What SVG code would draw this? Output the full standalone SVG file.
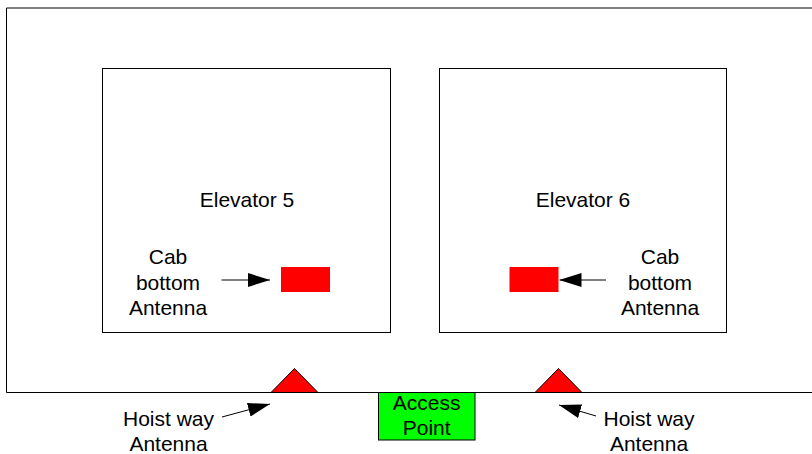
<svg xmlns="http://www.w3.org/2000/svg" width="812" height="454" viewBox="0 0 812 454">
<style>
.box{fill:none;stroke:#000;stroke-width:1}
.lbl{font-family:"Liberation Sans",Arial,sans-serif;font-size:21px;fill:#000;text-anchor:middle}
.cab{fill:#ff0000;stroke:none}
.tri{fill:#ff0000;stroke:#000;stroke-width:1}
.conn{stroke:#000;stroke-width:1;fill:none;marker-end:url(#ah)}
</style>
<defs>
<marker id="ah" markerUnits="userSpaceOnUse" markerWidth="22" markerHeight="14" refX="22" refY="7" orient="auto">
<path d="M0,0 L22,7 L0,14 z" fill="#000"/>
</marker>
</defs>
<rect width="812" height="454" fill="#fff"/>
<g id="hoistway">
<path class="box" d="M812,8 H6.5 V392.5 H812"/>
</g>
<g id="elevator5">
<rect class="box" x="102.5" y="68.5" width="288" height="264"/>
<text class="lbl" x="247" y="207">Elevator 5</text>
</g>
<g id="elevator6">
<rect class="box" x="439.5" y="68.5" width="287" height="264"/>
<text class="lbl" x="583" y="207">Elevator 6</text>
</g>
<g id="cab-antenna-5">
<rect class="cab" x="281" y="267" width="49" height="25"/>
</g>
<g id="cab-antenna-6">
<rect class="cab" x="509.5" y="267" width="49" height="25"/>
</g>
<g id="cab-label-5">
<text class="lbl"><tspan x="168" y="264">Cab</tspan><tspan x="168" y="289.5">bottom</tspan><tspan x="168" y="315">Antenna</tspan></text>
</g>
<g id="cab-label-6">
<text class="lbl"><tspan x="660" y="264">Cab</tspan><tspan x="660" y="289.5">bottom</tspan><tspan x="660" y="315">Antenna</tspan></text>
</g>
<g id="hoist-antenna-1">
<polygon class="tri" points="271,392.5 294.5,368.5 318,392.5"/>
</g>
<g id="hoist-antenna-2">
<polygon class="tri" points="535,392.5 558.5,368.5 582,392.5"/>
</g>
<g id="access-point">
<rect x="378.5" y="392.5" width="96.5" height="47.5" fill="#00ff00" stroke="#000" stroke-width="1"/>
<text class="lbl"><tspan x="426.7" y="410">Access</tspan><tspan x="426.7" y="435">Point</tspan></text>
</g>
<g id="hoist-label-1">
<text class="lbl"><tspan x="168.5" y="426">Hoist way</tspan><tspan x="168.5" y="451">Antenna</tspan></text>
</g>
<g id="hoist-label-2">
<text class="lbl"><tspan x="649" y="426">Hoist way</tspan><tspan x="649" y="451">Antenna</tspan></text>
</g>
<g id="connectors">
<line class="conn" x1="221.5" y1="280" x2="270" y2="280"/>
<line class="conn" x1="606" y1="280" x2="559.5" y2="280"/>
<line class="conn" x1="222" y1="417" x2="270" y2="404"/>
<line class="conn" x1="596" y1="416" x2="559" y2="405"/>
</g>
</svg>
